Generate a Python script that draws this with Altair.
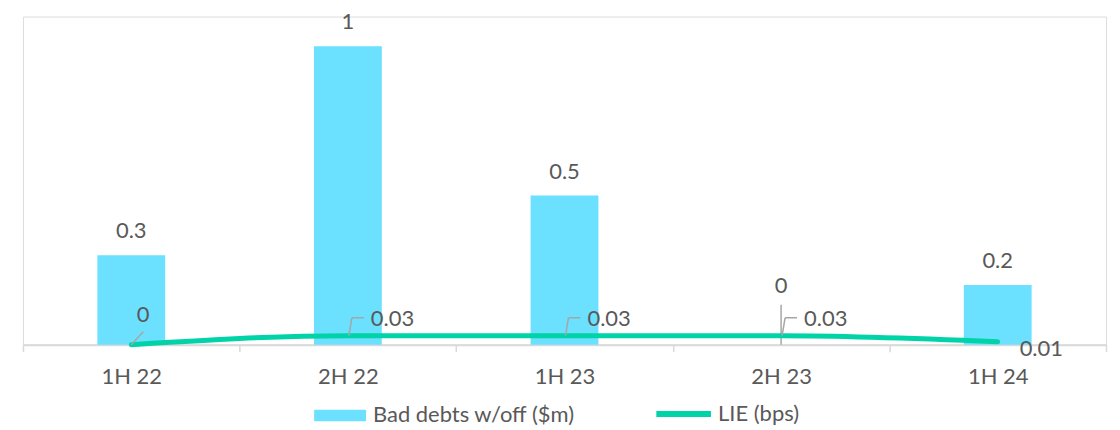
import altair as alt
import pandas as pd

periods = ["1H 22", "2H 22", "1H 23", "2H 23", "1H 24"]
bad_debts = [0.3, 1, 0.5, 0, 0.2]
lie_bps = [0, 0.03, 0.03, 0.03, 0.01]
bar_labels = ["0.3", "1", "0.5", "0", "0.2"]
lie_labels = ["0", "0.03", "0.03", "0.03", "0.01"]

BAR_NAME = "Bad debts w/off ($m)"
LINE_NAME = "LIE (bps)"
FONT = "Lato"
FS = 22
TXT = "#595959"
LEAD = "#a6a6a6"
BAR_C = "#6BE0FF"
LINE_C = "#00D3A7"

df = pd.DataFrame({
    "period": periods,
    "bad": bad_debts,
    "lie": lie_bps,
    "bad_lbl": bar_labels,
    "lie_lbl": lie_labels,
    "idx": list(range(len(periods))),
    "s_bar": BAR_NAME,
    "s_line": LINE_NAME,
})

x = alt.X("period:N", sort=periods, title=None,
          scale=alt.Scale(paddingInner=0, paddingOuter=0),
          axis=alt.Axis(labelAngle=0, labelFont=FONT, labelFontSize=FS, labelColor=TXT,
                        domainColor="#d9d9d9", domainWidth=2, tickColor="#d9d9d9",
                        tickWidth=1.5, tickSize=7, tickBand="extent", labelPadding=15))
yscale = alt.Scale(domain=[0, 1.1], nice=False)
y_bar = alt.Y("bad:Q", scale=yscale, axis=None)
y_line = alt.Y("lie:Q", scale=yscale, axis=None)

base = alt.Chart(df)

bars = base.mark_bar(size=68).encode(
    x=x, y=y_bar,
    fill=alt.Fill("s_bar:N", scale=alt.Scale(domain=[BAR_NAME], range=[BAR_C]),
                  legend=alt.Legend(title=None, orient="none", legendX=292, legendY=374,
                                    symbolType="M-1,-0.22H1V0.22H-1Z",
                                    symbolSize=2704, symbolStrokeWidth=0, labelFont=FONT,
                                    labelFontSize=FS, labelColor=TXT, labelLimit=500,
                                    labelOffset=7, symbolOpacity=1)),
)

bar_text = base.transform_filter("datum.bad > 0").mark_text(
    dy=-24, font=FONT, fontSize=FS, color=TXT).encode(x=x, y=y_bar, text="bad_lbl:N")
bar_text0 = base.transform_filter("datum.bad == 0").mark_text(
    dy=-59, font=FONT, fontSize=FS, color=TXT).encode(x=x, y=y_bar, text="bad_lbl:N")
bar_lead0 = base.transform_filter("datum.bad == 0").mark_rule(
    color=LEAD, strokeWidth=1.5, y2Offset=-40).encode(x=x, y=y_bar, y2="bad:Q")

line = base.mark_line(strokeWidth=5, strokeCap="round", interpolate="monotone").encode(
    x=x, y=y_line,
    stroke=alt.Stroke("s_line:N", scale=alt.Scale(domain=[LINE_NAME], range=[LINE_C]),
                      legend=alt.Legend(title=None, orient="none", legendX=632, legendY=368,
                                        symbolType="stroke",
                                        symbolSize=3000, symbolStrokeWidth=6, labelFont=FONT,
                                        labelFontSize=FS, labelColor=TXT, labelOffset=4)),
)

lt_first = base.transform_filter("datum.idx == 0").mark_text(
    dx=12, dy=-30, font=FONT, fontSize=FS, color=TXT).encode(x=x, y=y_line, text="lie_lbl:N")
lt_mid = base.transform_filter("datum.idx > 0 && datum.idx < 4").mark_text(
    align="left", dx=23, dy=-17, font=FONT, fontSize=FS, color=TXT).encode(x=x, y=y_line, text="lie_lbl:N")
lt_last = base.transform_filter("datum.idx == 4").mark_text(
    align="left", dx=22, dy=7, font=FONT, fontSize=FS, color=TXT).encode(x=x, y=y_line, text="lie_lbl:N")

lead_first = base.transform_filter("datum.idx == 0").mark_rule(
    color=LEAD, strokeWidth=1.5, x2Offset=12, y2Offset=-13).encode(x=x, y=y_line, x2="period:N", y2="lie:Q")
lead_mid_v = base.transform_filter("datum.idx > 0 && datum.idx < 4").mark_rule(
    color=LEAD, strokeWidth=1.5, xOffset=1, x2Offset=4, y2Offset=-18).encode(x=x, y=y_line, x2="period:N", y2="lie:Q")
lead_mid_h = base.transform_filter("datum.idx > 0 && datum.idx < 4").mark_rule(
    color=LEAD, strokeWidth=1.5, xOffset=4, x2Offset=16, yOffset=-18, y2Offset=-18).encode(x=x, y=y_line, x2="period:N", y2="lie:Q")

chart = alt.layer(bars, bar_lead0, line, lead_first, lead_mid_v, lead_mid_h,
                  bar_text, bar_text0, lt_first, lt_mid, lt_last).resolve_scale(
    fill="independent", stroke="independent"
).properties(
    width=1086, height=329,
    padding={"left": 14, "top": 2, "right": 5, "bottom": 0},
).configure_view(stroke=None).configure(background="white")

chart.save("out.html", embed_options={"renderer": "svg", "actions": False})
